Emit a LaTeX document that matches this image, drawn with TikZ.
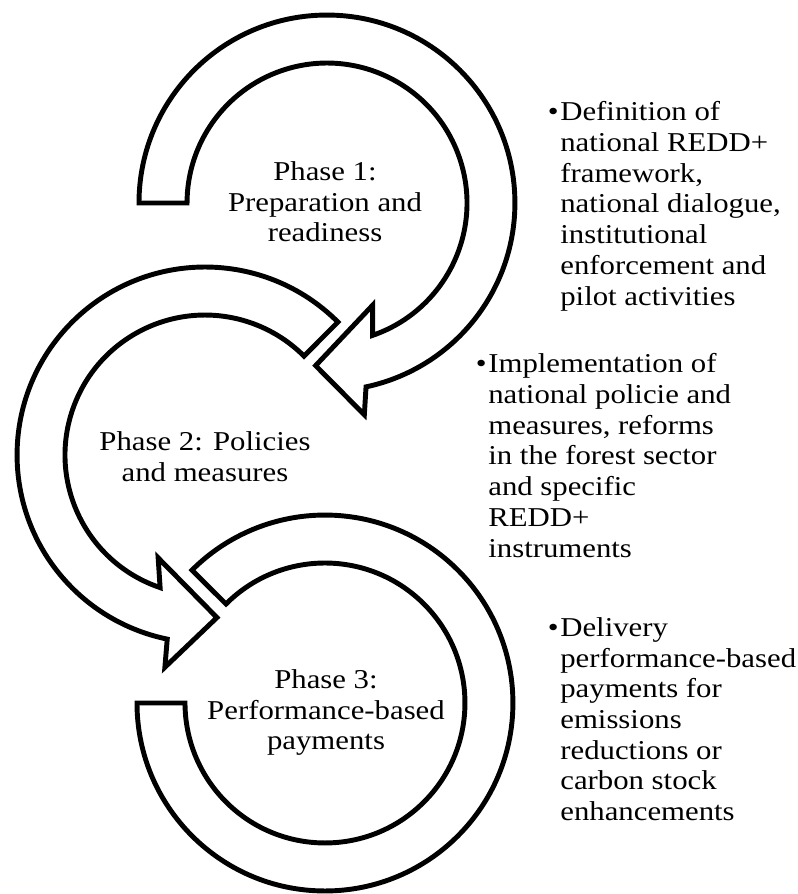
\documentclass[tikz,border=0pt]{standalone}
\usepackage{fontspec}
\setmainfont{Liberation Serif}[FakeStretch=1.13]
\newcommand{\Rout}{3.76cm}
\newcommand{\Rin}{2.8cm}
\tikzset{
	ring/.style={
		draw,
		fill=white,
		line width=2.8pt},
	phase/.style={
		align=center,
		inner sep=0pt,
		anchor=north,
		font=\fontsize{15.5}{17.5}\selectfont},
	bullets/.style={
		align=left,
		inner sep=0pt,
		anchor=north west,
		font=\fontsize{15.5}{17.5}\selectfont}
}
\begin{document}
\begin{tikzpicture}[x=0.02cm, y=0.02cm]
	\useasboundingbox (0,0) rectangle (798,-894);
	\coordinate (c1) at (327,-203);
	\coordinate (c2) at (205,-455);
	\coordinate (c3) at (325,-703);
	\begin{scope}[shift={(c3)}]
		\draw[ring] (180:188) arc[start angle=180, end angle=495, radius=\Rout]
			-- (495:140) arc[start angle=495, end angle=180, radius=\Rin] -- cycle;
	\end{scope}
	\begin{scope}[shift={(c2)}]
		\draw[ring] (45:188) arc[start angle=45, end angle=258.4, radius=\Rout]
			-- (259.3:216) -- (274.2:163) -- (245.5:113) -- (251.3:140)
			arc[start angle=251.3, end angle=45, radius=\Rin] -- cycle;
	\end{scope}
	\begin{scope}[shift={(c1)}]
		\draw[ring] (180:188) arc[start angle=180, end angle=-78, radius=\Rout]
			-- (-80:215) -- (-94:163) -- (-66:112) -- (-71:140)
			arc[start angle=-71, end angle=180, radius=\Rin] -- cycle;
	\end{scope}
	\node[phase] (ph1) at (325,-161) {Phase 1:\\Preparation and\\readiness};
	\node[phase] (ph2) at (205,-431) {Phase 2: Policies\\and measures};
	\node[phase] (ph3) at (326,-669) {Phase 3:\\Performance-based\\payments};
	\node[bullets] (b1) at (560,-101) {\llap{\textbullet\hspace{1pt}}Definition of\\national REDD+\\framework,\\national dialogue,\\institutional\\enforcement and\\pilot activities};
	\node[bullets] (b2) at (488,-353) {\llap{\textbullet\hspace{1pt}}Implementation of\\national policie and\\measures, reforms\\in the forest sector\\and specific\\REDD+\\instruments};
	\node[bullets] (b3) at (560,-617) {\llap{\textbullet\hspace{1pt}}Delivery\\performance-based\\payments for\\emissions\\reductions or\\carbon stock\\enhancements};
\end{tikzpicture}
\end{document}
